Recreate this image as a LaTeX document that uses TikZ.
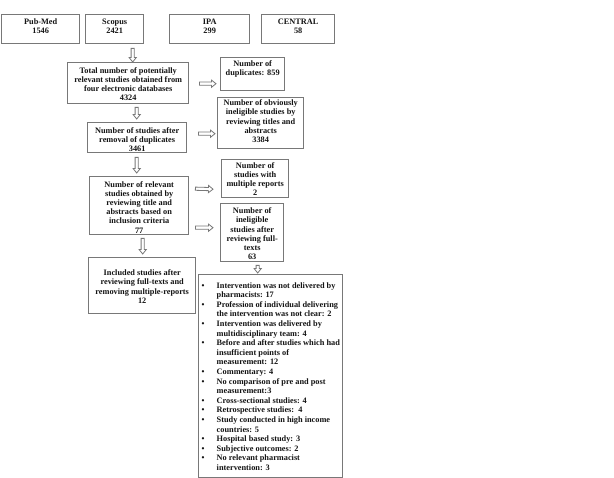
\documentclass[tikz,border=0pt]{standalone}
\usepackage{fontspec}
\setmainfont{Liberation Serif}
\usetikzlibrary{calc}
\definecolor{boxgray}{RGB}{120,120,120}
\definecolor{txt}{RGB}{20,20,20}
\newcommand\bx[4]{\begin{minipage}[c][#2pt][t]{#1pt}\centering\fontsize{8.3}{9.2}\selectfont\bfseries\rule{0pt}{#3pt}#4\end{minipage}}
\newcommand\bl{\hspace*{3pt}\makebox[15pt][l]{\textbullet}}
\newcommand\ind{\hspace*{18pt}}
\tikzset{
  box/.style={draw=boxgray, line width=1.4pt, inner sep=0pt, anchor=north west, text=txt},
  arrowstyle/.style={draw=boxgray, fill=white, line width=0.8pt, line join=miter}
}
\newcommand\hollowarrow[2]{%
  \path[arrowstyle] let \p1=(#1), \p2=(#2), \n1={atan2(\y2-\y1,\x2-\x1)}, \n2={veclen(\x2-\x1,\y2-\y1)} in
  [shift={(\p1)}, rotate=\n1] (0,-1.6) -- ({\n2-4.5},-1.6) -- ({\n2-4.5},-3.6) -- ({\n2},0) -- ({\n2-4.5},3.6) -- ({\n2-4.5},1.6) -- (0,1.6) -- cycle;}
\begin{document}
\begin{tikzpicture}[x=1pt, y=-1pt]
\useasboundingbox[fill=white] (0,0) rectangle (614,478);
% sources
\node[box] (pubmed) at (1,14) {\bx{78}{29}{10}{Pub-Med\\1546}};
\node[box] (scopus) at (85,14) {\bx{58}{29}{10}{Scopus\\2421}};
\node[box] (ipa) at (169,14) {\bx{80}{29}{10}{IPA\\299}};
\node[box] (central) at (261,14) {\bx{73}{29}{10}{CENTRAL\\58}};
% main column
\node[box] (total) at (67,62) {\bx{121}{41}{10.5}{Total number of potentially\\relevant studies obtained from\\four electronic databases\\4324}};
\node[box] (after) at (87,122) {\bx{99}{30}{10.5}{Number of studies after\\removal of duplicates\\3461}};
\node[box] (relevant) at (89,176) {\bx{99}{58}{10.5}{Number of relevant\\studies obtained by\\reviewing title and\\abstracts based on\\inclusion criteria\\77}};
\node[box] (included) at (88,257) {\bx{107}{56}{18}{Included studies after\\reviewing full-texts and\\removing multiple-reports\\12}};
% side column
\node[box] (dup) at (220,57) {\bx{64}{33}{9}{Number of\\duplicates: 859}};
\node[box] (inelig) at (217,97) {\bx{86}{51}{8}{Number of obviously\\ineligible studies by\\reviewing titles and\\abstracts\\3384}};
\node[box] (multi) at (221,159) {\bx{67}{38}{8.5}{Number of\\studies with\\multiple reports\\2}};
\node[box] (fulltext) at (220,203) {\bx{63}{58}{10}{Number of\\ineligible\\studies after\\reviewing full-\\texts\\63}};
\node[box] (list) at (198,274) {\begin{minipage}[c][203pt][t]{144pt}\fontsize{8.3}{9.6}\selectfont\bfseries\raggedright\rule{0pt}{13.5pt}%
\bl Intervention was not delivered by\\
\ind pharmacists: 17\\
\bl Profession of individual delivering\\
\ind the intervention was not clear: 2\\
\bl Intervention was delivered by\\
\ind multidisciplinary team: 4\\
\bl Before and after studies which had\\
\ind insufficient points of\\
\ind measurement: 12\\
\bl Commentary: 4\\
\bl No comparison of pre and post\\
\ind measurement:3\\
\bl Cross-sectional studies: 4\\
\bl Retrospective studies:\ \ 4\\
\bl Study conducted in high income\\
\ind countries: 5\\
\bl Hospital based study: 3\\
\bl Subjective outcomes: 2\\
\bl No relevant pharmacist\\
\ind intervention: 3\end{minipage}};
% arrows
\hollowarrow{$(scopus.south)+(18,4)$}{$(total.north)+(4.5,0)$}
\hollowarrow{$(total.east)+(10,0.5)$}{$(dup.west)+(-4,9.5)$}
\hollowarrow{$(total.south)+(8.5,3)$}{$(after.north)+(-0.5,-3)$}
\hollowarrow{$(after.east)+(11,-4)$}{$(inelig.west)+(-2,10.5)$}
\hollowarrow{$(after.south)+(-0.5,4)$}{$(relevant.north)+(-2.5,-3)$}
\hollowarrow{$(relevant.east)+(6,-17)$}{$(multi.west)+(-8,10.5)$}
\hollowarrow{$(relevant.east)+(6,22)$}{$(fulltext.west)+(-7,-5)$}
\hollowarrow{$(relevant.south)+(3.5,3)$}{$(included.north)+(0.5,-3)$}
\hollowarrow{$(fulltext.south)+(5.5,3)$}{$(list.north)+(-13,-1)$}
\end{tikzpicture}
\end{document}
